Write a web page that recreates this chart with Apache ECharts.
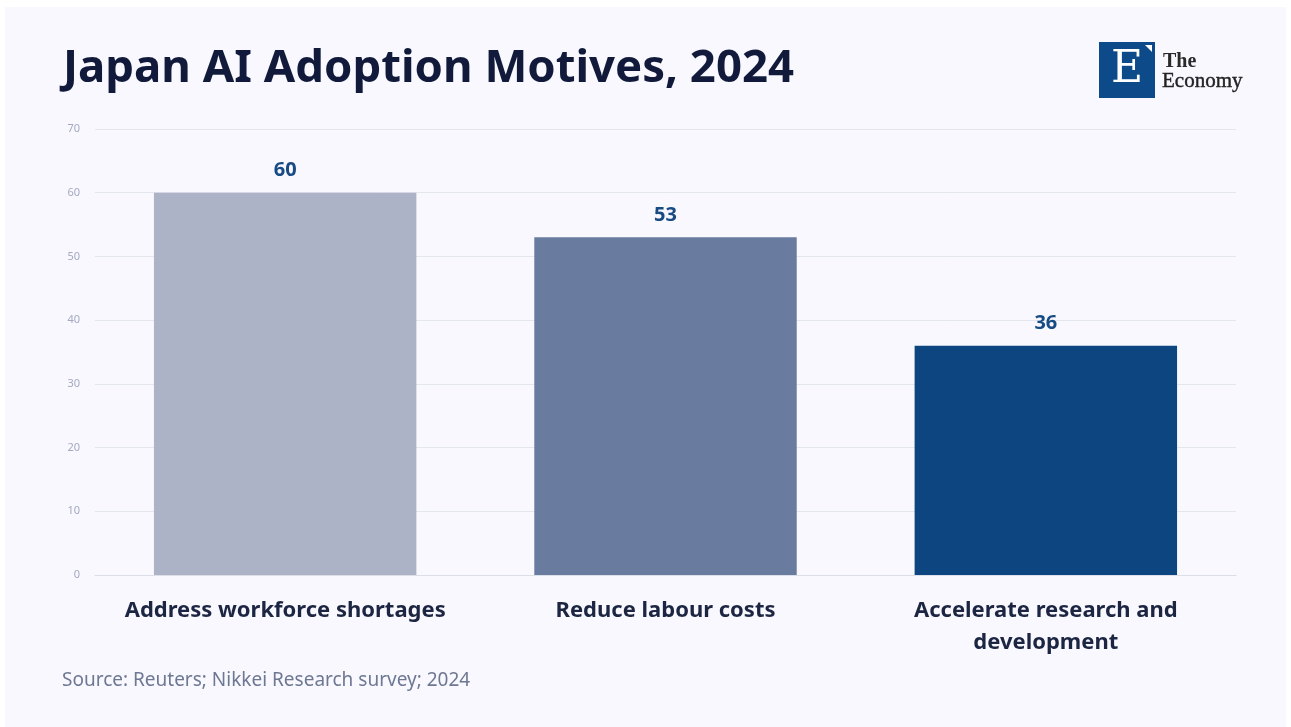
<!DOCTYPE html>
<html>
<head>
<meta charset="utf-8">
<script src="https://cdn.jsdelivr.net/npm/echarts@6/dist/echarts.min.js"></script>
<style>
  html, body { margin: 0; padding: 0; background: #ffffff; }
  #chart { width: 1291px; height: 727px; }
</style>
</head>
<body>
<div id="chart"></div>
<script>
// Survey motives and the share of respondents citing each
const categories = ['Address workforce shortages', 'Reduce labour costs', 'Accelerate research and\ndevelopment'];
const values = [60, 53, 36];
const barColors = ['#adb3c6', '#6a7ba0', '#0c4580'];
const yTicks = { min: 0, max: 70, interval: 10 };

const chart = echarts.init(document.getElementById('chart'), null, { renderer: 'canvas' });

chart.setOption({
  backgroundColor: '#ffffff',
  graphic: [
    { type: 'rect', shape: { x: 5, y: 7, width: 1281, height: 720 }, style: { fill: '#f8f8fe' }, z: -10 },
    // masthead logo
    { type: 'rect', shape: { x: 1099, y: 42, width: 56, height: 56 }, style: { fill: '#0d4a8a' } },
    { type: 'text', x: 1127, y: 71, style: { text: 'E', font: '44px "DejaVu Serif", "Liberation Serif", serif', fill: '#ffffff', align: 'center', verticalAlign: 'middle' } },
    { type: 'polygon', shape: { points: [[1145, 45], [1152, 45], [1152, 52]] }, style: { fill: '#ffffff' } },
    { type: 'text', x: 1163, y: 72, style: { text: 'The', font: 'bold 20px "Liberation Serif", serif', fill: '#2a2a2a', verticalAlign: 'bottom' } },
    { type: 'text', x: 1162, y: 92, style: { text: 'Economy', font: '21px "Liberation Serif", serif', fill: '#222222', stroke: '#222222', lineWidth: 0.4, verticalAlign: 'bottom' } },
    // source note
    { type: 'text', left: 62, top: 671, style: { text: 'Source: Reuters; Nikkei Research survey; 2024', font: '19px "Noto Sans", sans-serif', fill: '#6e7893' } }
  ],
  title: {
    text: 'Japan AI Adoption Motives, 2024',
    left: 58,
    top: 41,
    textStyle: { fontFamily: 'Noto Sans', fontWeight: 'bold', fontSize: 45.5, color: '#111a3b' }
  },
  grid: { left: 95, right: 55, top: 129, bottom: 152, containLabel: false },
  xAxis: {
    type: 'category',
    data: categories,
    axisLine: { show: true, lineStyle: { color: '#dcdfe8', width: 1 } },
    axisTick: { show: false },
    axisLabel: {
      margin: 20,
      fontFamily: 'Noto Sans',
      fontWeight: 'bold',
      fontSize: 22,
      lineHeight: 32,
      color: '#1c2542',
      interval: 0
    }
  },
  yAxis: {
    type: 'value',
    min: yTicks.min,
    max: yTicks.max,
    interval: yTicks.interval,
    axisLine: { show: false },
    axisTick: { show: false },
    splitLine: { lineStyle: { color: '#e4e6ee', width: 1 } },
    axisLabel: { margin: 15, fontFamily: 'Noto Sans', fontSize: 11, color: '#a3aac0' }
  },
  series: [{
    type: 'bar',
    data: values.map((v, i) => ({ value: v, itemStyle: { color: barColors[i] } })),
    barWidth: '69%',
    label: {
      show: true,
      position: 'top',
      distance: 12,
      fontFamily: 'Noto Sans',
      fontWeight: 'bold',
      fontSize: 20,
      color: '#184a84'
    }
  }]
});
</script>
</body>
</html>
